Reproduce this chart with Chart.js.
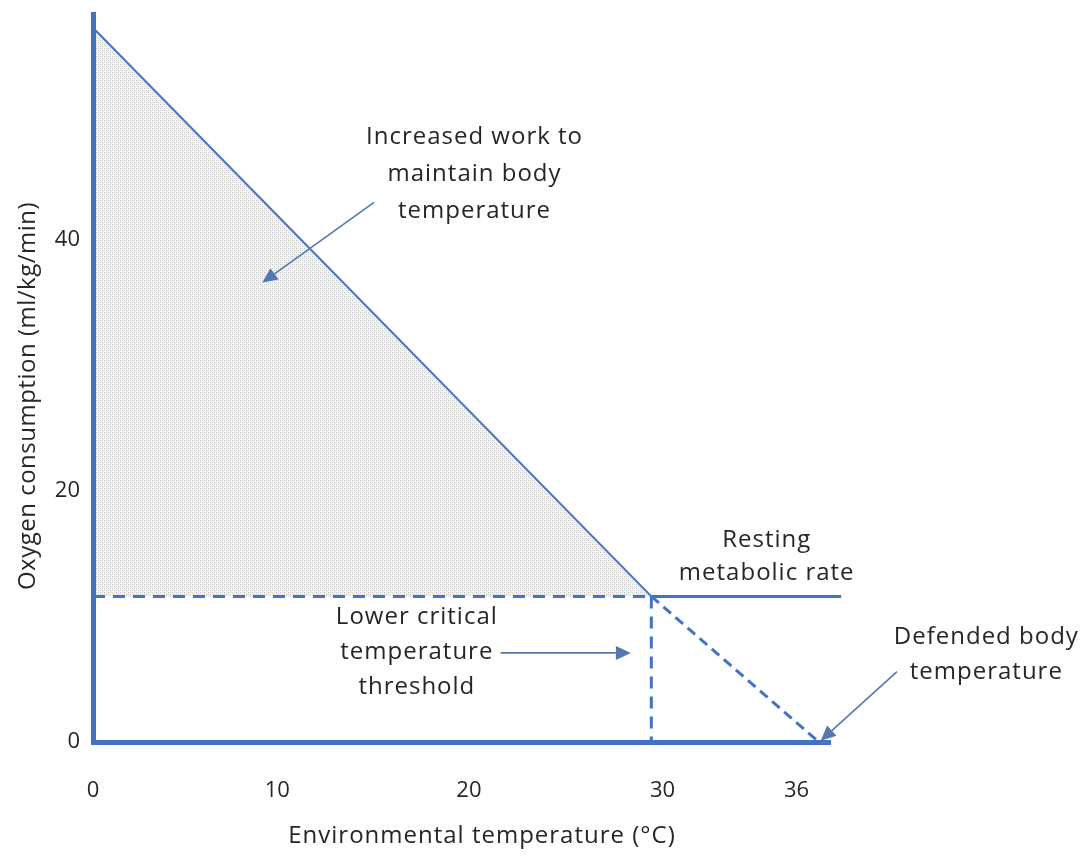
<!DOCTYPE html>
<html lang="en">
<head>
    <meta charset="UTF-8">
    <title>Oxygen consumption vs environmental temperature</title>
    <style>
        body { margin: 0; background: #fff; }
        canvas { display: block; }
    </style>
    <script src="https://cdn.jsdelivr.net/npm/chart.js"></script>
</head>
<body>
    <canvas id="chart" width="1085" height="856"></canvas>

    <script>
        // values (x: °C on the drawn scale, y: ml/kg/min)
        var workLineX = [0, 30];
        var workLineY = [56.9, 11.6];
        var baselineX = [0, 30];
        var baselineY = [11.6, 11.6];
        var restingX = [30, 40.2];
        var restingY = [11.6, 11.6];
        var lctDropX = [30, 30];
        var lctDropY = [11.6, 0];
        var defendX = [30, 39];
        var defendY = [11.6, 0];

        // the original's x labels are not evenly spaced, so keep where they sit
        var xTickValues = [0, 9.9, 20.2, 30.6, 37.8];
        var xTickLabels = ['0', '10', '20', '30', '36'];
        var yTickValues = [0, 20, 40];

        var blue = '#4472c4';
        var arrowBlue = '#5577b0';
        var textColor = '#262626';
        var fontFamily = '"Open Sans", "DejaVu Sans", sans-serif';

        function toPoints(xs, ys) {
            var pts = [];
            for (var i = 0; i < xs.length; i++) {
                pts.push({ x: xs[i], y: ys[i] });
            }
            return pts;
        }

        // dotted grey texture for the shaded area
        function makePattern() {
            var c = document.createElement('canvas');
            c.width = 4;
            c.height = 4;
            var g = c.getContext('2d');
            g.fillStyle = '#f5f5f5';
            g.fillRect(0, 0, 4, 4);
            g.fillStyle = '#c4c4c4';
            g.fillRect(0, 0, 1, 1);
            g.fillRect(2, 2, 1, 1);
            g.fillStyle = '#dcdcdc';
            g.fillRect(2, 0, 1, 1);
            g.fillRect(0, 2, 1, 1);
            return g.createPattern(c, 'repeat');
        }

        function drawArrow(ctx, x1, y1, x2, y2) {
            var ang = Math.atan2(y2 - y1, x2 - x1);
            var head = 15, half = 7;
            ctx.save();
            ctx.strokeStyle = arrowBlue;
            ctx.fillStyle = arrowBlue;
            ctx.lineWidth = 1.6;
            ctx.beginPath();
            ctx.moveTo(x1, y1);
            ctx.lineTo(x2 - Math.cos(ang) * head, y2 - Math.sin(ang) * head);
            ctx.stroke();
            ctx.beginPath();
            ctx.moveTo(x2, y2);
            ctx.lineTo(x2 - Math.cos(ang) * head - Math.sin(ang) * half,
                       y2 - Math.sin(ang) * head + Math.cos(ang) * half);
            ctx.lineTo(x2 - Math.cos(ang) * head + Math.sin(ang) * half,
                       y2 - Math.sin(ang) * head - Math.cos(ang) * half);
            ctx.closePath();
            ctx.fill();
            ctx.restore();
        }

        function drawLines(ctx, lines, cx, cy, gap) {
            for (var i = 0; i < lines.length; i++) {
                ctx.fillText(lines[i], cx, cy + i * gap);
            }
        }

        // labels, arrows and axis titles
        var notesPlugin = {
            id: 'notes',
            afterDraw: function (chart) {
                var ctx = chart.ctx;
                var xs = chart.scales.x, ys = chart.scales.y;
                function px(v) { return xs.getPixelForValue(v); }
                function py(v) { return ys.getPixelForValue(v); }

                ctx.save();
                ctx.fillStyle = textColor;
                ctx.font = '24px ' + fontFamily;
                ctx.letterSpacing = '1px';
                ctx.textAlign = 'center';
                ctx.textBaseline = 'middle';

                drawLines(ctx, ['Increased work to', 'maintain body', 'temperature'], px(20.5), py(48.2), 37);
                drawLines(ctx, ['Resting', 'metabolic rate'], px(36.2), py(16.1), 33);
                drawLines(ctx, ['Lower critical', 'temperature', 'threshold'], px(17.4), py(9.96), 35);
                drawLines(ctx, ['Defended body', 'temperature'], px(48.0), py(8.37), 35);

                drawArrow(ctx, px(15.1), py(43.0), px(9.1), py(36.6));
                drawArrow(ctx, px(21.9), py(7.1), px(28.9), py(7.1));
                drawArrow(ctx, px(43.2), py(5.6), px(39.1), py(0.1));

                // axis titles
                ctx.fillText('Environmental temperature (\u00B0C)', 482, 836);
                ctx.letterSpacing = '0.5px';
                ctx.translate(28, 396);
                ctx.rotate(-Math.PI / 2);
                ctx.fillText('Oxygen consumption (ml/kg/min)', 0, 0);
                ctx.restore();
            }
        };

        var ctx = document.getElementById('chart').getContext('2d');
        var fillPattern = makePattern();

        var lineBase = {
            pointRadius: 0,
            borderColor: blue,
            clip: false,
            tension: 0,
            order: 0
        };

        new Chart(ctx, {
            type: 'line',
            data: {
                datasets: [
                    Object.assign({}, lineBase, {
                        label: 'Work line',
                        data: toPoints(workLineX, workLineY),
                        borderWidth: 2,
                        backgroundColor: fillPattern,
                        fill: '+1',
                        order: 5
                    }),
                    Object.assign({}, lineBase, {
                        label: 'Baseline',
                        data: toPoints(baselineX, baselineY),
                        borderWidth: 3,
                        borderDash: [12, 8],
                        fill: false
                    }),
                    Object.assign({}, lineBase, {
                        label: 'Resting metabolic rate',
                        data: toPoints(restingX, restingY),
                        borderWidth: 3,
                        fill: false
                    }),
                    Object.assign({}, lineBase, {
                        label: 'Lower critical temperature',
                        data: toPoints(lctDropX, lctDropY),
                        borderWidth: 3,
                        borderDash: [12, 8],
                        fill: false
                    }),
                    Object.assign({}, lineBase, {
                        label: 'Defended body temperature',
                        data: toPoints(defendX, defendY),
                        borderWidth: 3,
                        borderDash: [10, 6],
                        fill: false
                    })
                ]
            },
            options: {
                responsive: false,
                animation: false,
                events: [],
                layout: {
                    padding: { top: 14, right: 255, bottom: 0, left: 0 }
                },
                plugins: {
                    legend: { display: false },
                    tooltip: { enabled: false }
                },
                scales: {
                    x: {
                        type: 'linear',
                        min: 0,
                        max: 39.6,
                        grid: { display: false, drawTicks: false },
                        border: { display: true, color: blue, width: 5, z: 1 },
                        afterFit: function (scale) {
                            scale.height = 114;
                            scale.paddingLeft = 0;
                            scale.paddingRight = 0;
                        },
                        afterBuildTicks: function (scale) {
                            scale.ticks = xTickValues.map(function (v) { return { value: v }; });
                        },
                        ticks: {
                            padding: 36,
                            color: textColor,
                            font: { family: fontFamily, size: 22 },
                            maxRotation: 0,
                            autoSkip: false,
                            callback: function (value, index) { return xTickLabels[index]; }
                        }
                    },
                    y: {
                        min: 0,
                        max: 58,
                        grid: { display: false, drawTicks: false },
                        border: { display: true, color: blue, width: 5, z: 1 },
                        afterFit: function (scale) {
                            scale.width = 93;
                            scale.paddingTop = 0;
                            scale.paddingBottom = 0;
                        },
                        afterBuildTicks: function (scale) {
                            scale.ticks = yTickValues.map(function (v) { return { value: v }; });
                        },
                        ticks: {
                            padding: 13,
                            color: textColor,
                            font: { family: fontFamily, size: 22 }
                        }
                    }
                }
            },
            plugins: [notesPlugin]
        });
    </script>
</body>
</html>
